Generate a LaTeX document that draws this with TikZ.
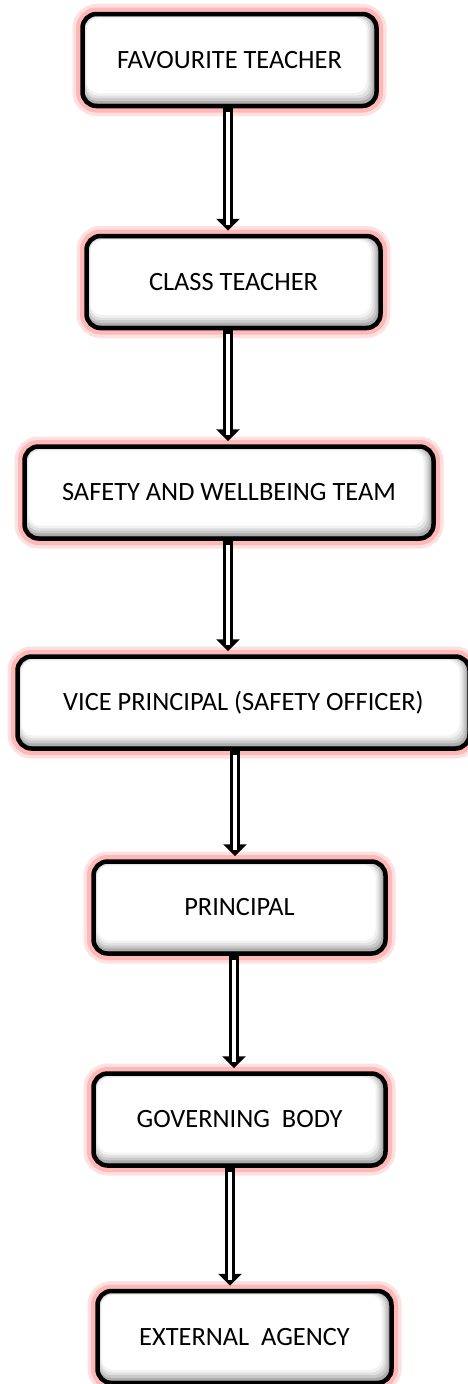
\documentclass[tikz,border=0pt]{standalone}
\usepackage{fontspec}
\setmainfont{Carlito}
\usetikzlibrary{arrows.meta}

\tikzset{
  stage/.style={draw=black, line width=4.5pt, rounded corners=14pt, fill=white,
    minimum height=92pt, inner sep=0pt,
    font=\fontsize{26.4}{30}\selectfont,
    preaction={draw=red!12, line width=20pt},
    preaction={draw=red!28, line width=13pt},
    path picture={
      \foreach \d/\g in {0/45,2/32,4/21,6/12,8/5,10/0}
        \fill[black!\g, rounded corners=12pt]
          ([shift={(0.4*\d pt,-0.4*\d pt)}]path picture bounding box.north west)
          rectangle ([shift={(-1.0*\d pt,1.3*\d pt)}]path picture bounding box.south east);
    }},
  flow/.style={draw=white, line width=3.5pt, shorten <=4pt, shorten >=9pt,
    preaction={draw=black, line width=10.5pt, shorten <=0pt, shorten >=3pt,
      -{Triangle[length=12pt, width=23pt]}}}
}

\begin{document}
\begin{tikzpicture}[x=1pt, y=-1pt]
  \useasboundingbox (0,0) rectangle (467,1384);
  \node[stage, minimum width=294pt] (fav) at (229.5,60)  {FAVOURITE TEACHER};
  \node[stage, minimum width=294pt] (cls) at (233.5,282) {CLASS TEACHER};
  \node[stage, minimum width=409pt] (swt) at (229,492.5) {SAFETY AND WELLBEING TEAM};
  \node[stage, minimum width=452pt] (vp)  at (243.5,702.5) {VICE PRINCIPAL (SAFETY OFFICER)};
  \node[stage, minimum width=292pt] (pri) at (239.5,907.5) {PRINCIPAL};
  \node[stage, minimum width=292pt] (gov) at (239.5,1119.5) {GOVERNING~ BODY};
  \node[stage, minimum width=294pt] (ext) at (244.5,1337) {EXTERNAL~ AGENCY};

  \draw[flow] ([xshift=-1.5pt]fav.south) -- ([xshift=-1.5pt]fav.south |- cls.north);
  \draw[flow] ([xshift=-5.5pt]cls.south) -- ([xshift=-5.5pt]cls.south |- swt.north);
  \draw[flow] ([xshift=-1pt]swt.south) -- ([xshift=-1pt]swt.south |- vp.north);
  \draw[flow] ([xshift=-8.5pt]vp.south) -- ([xshift=-8.5pt]vp.south |- pri.north);
  \draw[flow] ([xshift=-5.5pt]pri.south) -- ([xshift=-5.5pt]pri.south |- gov.north);
  \draw[flow] ([xshift=-9.5pt]gov.south) -- ([xshift=-9.5pt]gov.south |- ext.north);
\end{tikzpicture}
\end{document}
